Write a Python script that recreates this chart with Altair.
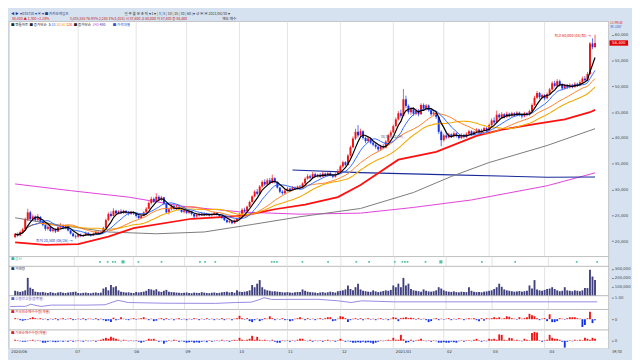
import altair as alt
import pandas as pd

# ---------------- data ----------------
month_labels = ["2020/06", "07", "08", "09", "10", "11", "12", "2021/01", "02", "03", "04"]
month_start = [0, 25, 48, 68, 89, 108, 129, 150, 170, 188, 210]

opens = [
    20800, 21400, 21100, 21800, 22300, 24200, 25600, 24300, 24800, 24100, 24700, 23900, 23200, 22400, 22800, 22000, 22300, 21900, 22700, 23100, 22600, 22900, 22100, 21500, 21000,
    20900, 21300, 21000, 21200, 21600, 21300, 21100, 21500, 21800, 21500, 21700, 22600, 24100, 25300, 24900, 25900, 25400, 25800, 25500, 25900, 25600, 25300, 25700,
    25400, 24900, 24500, 24900, 25600, 26300, 27400, 28200, 27700, 28600, 28100, 28500, 27300, 25600, 26200, 26800, 26300, 26700, 26200, 25700,
    26000, 25500, 25800, 25300, 24800, 25200, 25000, 25400, 25100, 25300, 25000, 25200, 25500, 25200, 24900, 24600, 24100, 23700, 23900, 23500, 24000,
    24400, 25300, 26100, 25800, 26700, 27600, 28700, 29600, 29200, 30600, 31500, 31000, 31800, 31300, 32200, 31500, 30400, 29600, 29300,
    29800, 30200, 29900, 30400, 30100, 30600, 30300, 31200, 32100, 32600, 32300, 33000, 32600, 32900, 32500, 33100, 32700, 33200, 32800, 32500, 33000,
    33600, 34500, 35300, 34800, 36600, 38200, 39900, 41200, 40500, 41300, 40000, 39400, 39900, 39100, 38700, 38300, 37800, 38400, 38100, 39300, 40500,
    41100, 42300, 43600, 44800, 44300, 47500, 46200, 45000, 45600, 44700, 45300, 44600, 46400, 45700, 46300, 45400, 44600, 44900, 44100, 41200,
    39600, 40500, 40100, 40700, 40300, 40900, 40400, 40000, 40600, 40200, 40800, 41300, 40700, 41200, 41600, 41100, 41500, 41900,
    41400, 42500, 43400, 43000, 44500, 44000, 44600, 44100, 44700, 44300, 44800, 44400, 44900, 44500, 44200, 44800, 44500, 45200, 46400, 47800, 48700, 47900,
    48300, 47700, 48500, 49400, 50600, 50100, 51000, 50300, 49600, 50200, 49800, 50300, 49900, 50500, 50200, 50800, 51500, 51200, 52400, 58300, 57600,
]
closes = [
    21400, 21100, 21800, 22300, 24200, 25600, 24300, 24800, 24100, 24700, 23900, 23200, 22400, 22800, 22000, 22300, 21900, 22700, 23100, 22600, 22900, 22100, 21500, 21000, 20900,
    21300, 21000, 21200, 21600, 21300, 21100, 21500, 21800, 21500, 21700, 22600, 24100, 25300, 24900, 25900, 25400, 25800, 25500, 25900, 25600, 25300, 25700, 25400,
    24900, 24500, 24900, 25600, 26300, 27400, 28200, 27700, 28600, 28100, 28500, 27300, 25600, 26200, 26800, 26300, 26700, 26200, 25700, 26000,
    25500, 25800, 25300, 24800, 25200, 25000, 25400, 25100, 25300, 25000, 25200, 25500, 25200, 24900, 24600, 24100, 23700, 23900, 23500, 24000, 24400,
    25300, 26100, 25800, 26700, 27600, 28700, 29600, 29200, 30600, 31500, 31000, 31800, 31300, 32200, 31500, 30400, 29600, 29300, 29800,
    30200, 29900, 30400, 30100, 30600, 30300, 31200, 32100, 32600, 32300, 33000, 32600, 32900, 32500, 33100, 32700, 33200, 32800, 32500, 33000, 33600,
    34500, 35300, 34800, 36600, 38200, 39900, 41200, 40500, 41300, 40000, 39400, 39900, 39100, 38700, 38300, 37800, 38400, 38100, 39300, 40500, 41100,
    42300, 43600, 44800, 44300, 47500, 46200, 45000, 45600, 44700, 45300, 44600, 46400, 45700, 46300, 45400, 44600, 44900, 44100, 41200, 39600,
    40500, 40100, 40700, 40300, 40900, 40400, 40000, 40600, 40200, 40800, 41300, 40700, 41200, 41600, 41100, 41500, 41900, 41400,
    42500, 43400, 43000, 44500, 44000, 44600, 44100, 44700, 44300, 44800, 44400, 44900, 44500, 44200, 44800, 44500, 45200, 46400, 47800, 48700, 47900, 48300,
    47700, 48500, 49400, 50600, 50100, 51000, 50300, 49600, 50200, 49800, 50300, 49900, 50500, 50200, 50800, 51500, 51200, 52400, 58300, 57600, 58400,
]
highs = [
    21600, 21700, 22100, 22600, 24600, 26300, 25900, 25200, 25000, 25300, 24900, 24000, 23300, 23300, 23000, 22700, 22500, 23100, 23500, 23300, 23200, 23000, 22200, 21700, 21300,
    21500, 21500, 21400, 21900, 21800, 21500, 21700, 22100, 21900, 22000, 22800, 24400, 25600, 25800, 26400, 26100, 26000, 26200, 26100, 26000, 25800, 25900, 25800,
    25500, 25100, 25200, 25800, 26600, 27700, 28600, 28500, 29300, 28900, 28800, 28600, 27400, 26500, 27100, 27000, 27100, 26800, 26400, 26300,
    26200, 26000, 25900, 25400, 25400, 25500, 25700, 25600, 25500, 25400, 25400, 25700, 25600, 25300, 25000, 24700, 24300, 24200, 24000, 24200, 24600,
    25500, 26400, 26500, 26900, 27900, 28900, 29900, 30100, 30900, 31800, 32000, 32200, 32300, 32900, 32400, 31600, 30500, 29900, 30100,
    30500, 30400, 30700, 30600, 30800, 30900, 31400, 32400, 33000, 32900, 33400, 33300, 33100, 33200, 33500, 33300, 33600, 33400, 33000, 33300, 34000,
    34800, 35600, 35500, 36900, 38500, 40300, 41800, 42500, 41800, 41500, 40300, 40200, 40100, 39400, 39000, 38600, 38700, 38800, 39600, 40800, 41500,
    42600, 44000, 45200, 45500, 49500, 48200, 46500, 46000, 45900, 45700, 45600, 46700, 46700, 46600, 46500, 45700, 45300, 45100, 44200, 41500,
    40800, 41200, 41000, 40900, 41300, 41100, 40600, 40900, 40800, 41100, 41600, 41500, 41400, 41900, 41800, 41800, 42200, 42100,
    42800, 43800, 44000, 45300, 44800, 45000, 44800, 45100, 44900, 45100, 45000, 45200, 45100, 44800, 45100, 45000, 45500, 46700, 48200, 49100, 48900, 48600,
    48500, 48800, 49700, 51000, 51100, 51400, 51300, 50600, 50500, 50400, 50600, 50500, 50800, 50700, 51200, 51900, 52000, 52800, 58600, 59300, 60000,
]
lows = [
    20600, 20900, 21000, 21500, 22200, 23900, 24000, 23900, 23800, 23900, 23600, 22900, 22000, 22100, 21800, 21700, 21600, 21800, 22400, 22300, 22300, 21900, 21300, 20800, 20500,
    20700, 20800, 20800, 21100, 21100, 20900, 21000, 21300, 21300, 21400, 21600, 22500, 23900, 24600, 24800, 25100, 25200, 25300, 25300, 25300, 25000, 25100, 25100,
    24600, 24300, 24300, 24800, 25500, 26200, 27100, 27400, 27600, 27700, 27800, 27000, 25300, 25200, 26000, 26100, 26100, 25900, 25500, 25400,
    25300, 25300, 25000, 24500, 24600, 24800, 24900, 24900, 24900, 24800, 24800, 25000, 25000, 24700, 24300, 23900, 23500, 23500, 23300, 23400, 23800,
    24300, 25100, 25600, 25700, 26600, 27500, 28500, 28900, 29100, 30400, 30700, 30800, 31000, 31200, 31200, 30200, 29300, 29000, 29100,
    29600, 29700, 29800, 29900, 30000, 30100, 30200, 31000, 31900, 32000, 32100, 32400, 32300, 32300, 32400, 32500, 32500, 32600, 32200, 32300, 32900,
    33400, 34200, 34500, 34700, 36400, 38000, 39600, 40100, 40200, 39700, 39000, 39100, 38800, 38400, 37900, 37400, 37500, 37800, 38000, 39100, 40200,
    40900, 42100, 43400, 43900, 44200, 45800, 44600, 44500, 44300, 44400, 44200, 44500, 45300, 45300, 45100, 44300, 44200, 43700, 40800, 38400,
    39300, 39800, 39900, 40000, 40100, 40100, 39700, 39800, 39900, 40000, 40600, 40400, 40500, 41000, 40800, 40900, 41300, 41100,
    41300, 42300, 42700, 42900, 43700, 43800, 43800, 43900, 44000, 44100, 44100, 44200, 44200, 43800, 44000, 44200, 44300, 45100, 46200, 47500, 47500, 47600,
    47300, 47500, 48300, 49200, 49800, 49900, 50000, 49300, 49400, 49500, 49600, 49600, 49700, 49900, 50000, 50600, 50900, 51000, 52200, 57200, 57400,
]
volume_k = [
    55, 48, 42, 50, 60, 200, 90, 75, 45, 40,
    38, 42, 35, 30, 40, 33, 28, 36, 40, 32,
    30, 35, 38, 42, 45, 30, 28, 32, 35, 30,
    27, 33, 36, 30, 34, 80, 95, 60, 120, 95,
    105, 60, 45, 40, 35, 38, 32, 30, 42, 36,
    40, 45, 55, 75, 70, 60, 72, 48, 42, 55,
    65, 45, 40, 38, 35, 33, 30, 34, 36, 30,
    28, 35, 32, 30, 40, 34, 30, 28, 33, 36,
    30, 32, 38, 42, 45, 36, 40, 33, 60, 45,
    40, 45, 50, 60, 120, 95, 135, 175, 95, 70,
    60, 55, 48, 50, 45, 42, 38, 36, 40, 35,
    33, 38, 42, 40, 70, 55, 45, 40, 38, 35,
    30, 36, 40, 33, 38, 45, 40, 35, 50, 55,
    60, 70, 115, 75, 60, 95, 135, 70, 55, 50,
    45, 42, 60, 48, 40, 45, 52, 60, 55, 65,
    115, 95, 135, 95, 200, 115, 135, 75, 60, 55,
    50, 45, 70, 55, 48, 45, 50, 60, 95, 80,
    60, 50, 45, 42, 48, 40, 38, 45, 42, 40,
    95, 55, 45, 40, 42, 38, 45, 48, 55, 60,
    75, 95, 135, 100, 70, 60, 55, 50, 45, 48,
    52, 45, 50, 55, 115, 80, 175, 70, 60, 55,
    65, 75, 80, 95, 75, 60, 50, 55, 95, 60,
    55, 50, 60, 55, 50, 60, 85, 85, 290, 215,
    175,
]
foreign_net = [
    1, 0.5, -1, -1.5, -1, -0.5, 1, 2, 1, 0.5,
    1, -0.5, 0.5, -1, 0.5, -0.5, 1, -1, 0.5, 1,
    -0.5, 0.5, 1, -1, -0.5, 0.5, -0.5, 1, -1, 0.5,
    0.5, -0.5, 1, -1, 0.5, -1, -2, -1.5, -3, 1.5,
    -1, -0.5, 2, 0.5, -0.5, -1, 0.5, 1, -0.5, 0.5,
    1, 2, 0.5, -1, 0.5, -2, -1.5, 0.5, 1, -1,
    1, -0.5, 0.5, -1, 0.5, 1, -0.5, 0.5, -1, 0.5,
    -0.5, 1, 0.5, -1, 0.5, -0.5, 1, -0.5, 0.5, -1,
    0.5, -0.5, 1, -1, 0.5, 0.5, -1, 0.5, 1, 3.5,
    1, -0.5, 1, -2, -3, -1, 0.5, -2, -1, 1,
    0.5, 3, 1, -1, 0.5, -0.5, 1, -1, -0.5, -2,
    -1.5, 0.5, 1, 2, 0.5, -1, 1, -0.5, 0.5, -1,
    0.5, 1, -0.5, 1, 2, 2, -2, -1.5, 0.5, 3,
    2.5, 1, -3, -1, 0.5, 1, -0.5, 1, -1, 0.5,
    1, -0.5, 0.5, -1, 0.5, 1, -0.5, 0.5, -1, 0.5,
    2, 1.5, -2, 1, 1.5, 2, 1, 1.5, 1, -0.5,
    1, -0.5, 0.5, -1, -3, -2, 0.5, 1, -1, 0.5,
    -0.5, 0.5, 1, -1, 0.5, -0.5, 1, 0.5, -1, 0.5,
    1, 0.5, 1, -1, -2, 1, -1.5, 1, 0.5, 1,
    2, 1, 2, 0.5, 1, 3, 2.5, 1, 0.5, -0.5,
    2, 0.5, 1, 2, 5.5, 4, 3, 1, -1, 0.5,
    1, -2, 5, -3, -3, -2, 1, 0.5, -0.5, 1,
    2, 2, 2, 1, 0.5, -8, -6, 1, 7.5, -4,
    -1,
]
inst_net = [
    1, 0.5, -0.5, -1, -1, -0.5, 0.5, 1, -0.5, 0.5,
    -0.5, -2, -2, -1, -0.5, -1, -1.5, -1, -0.5, -1,
    -0.5, -1, 0.5, -1, -0.5, 0.5, -0.5, -1, 0.5, -0.5,
    -0.5, 0.5, -1, 0.5, 1, 2, 3, 2, 4, 3,
    2, 1, -0.5, 1, 0.5, -0.5, 0.5, -0.5, 0.5, -1,
    -2, -1, 0.5, 2, 1.5, 2, 0.5, -1, -0.5, -3,
    -1, 0.5, -0.5, 1, 0.5, -1, -0.5, -1, -2, -1.5,
    -1, -2, -1.5, -2, -1, -0.5, -1.5, 0.5, -1, -0.5,
    0.5, -0.5, 1, -0.5, 0.5, -1, 0.5, 1, 0.5, 3,
    1, 0.5, 1, 2, 5, 1, 4, 1, 0.5, 1,
    0.5, -0.5, 1, -1, -2, -2, 0.5, -0.5, 0.5, -1,
    0.5, -0.5, 1, 2, 2, 0.5, -0.5, 1, -1, 0.5,
    -0.5, 0.5, -1, 0.5, 1, -0.5, 0.5, -1, 0.5, 2,
    0.5, -1, -0.5, -1, -2, -2, -1.5, -2, -1, -2,
    -1.5, -2, -3, -2, -1, 0.5, -0.5, 0.5, 1, 0.5,
    3, 1, 1, 6, 1.5, -2, -1.5, 1, -1, 0.5,
    1, 2, 0.5, -0.5, 0.5, -1, 0.5, -0.5, -2, -2,
    -1.5, -2, -2, -1, -1.5, -2, -0.5, 0.5, -1, 0.5,
    0.5, -0.5, 1, 2, 0.5, -1, 0.5, -0.5, 2, 1.5,
    2, 1, 6.5, 6, 1, 0.5, 3, 2.5, 0.5, 1,
    0.5, -0.5, 2, 1, 0.5, 8, 9, 8.5, 0.5, -1,
    0.5, 1, 6, 3, 2, 2, 1, -1, -7, -1,
    0.5, -0.5, 1, 0.5, 1, 0.5, 3, 2, 1, 3,
    2,
]
credit_idx = [0, 6, 8, 12, 16, 30, 37, 42, 46, 60, 80, 88, 94, 97, 99, 102, 120, 128, 133, 137, 150, 170, 200, 229]
credit_val = [0.47, 0.48, 0.60, 0.47, 0.55, 0.55, 0.57, 0.83, 0.70, 0.66, 0.65, 0.70, 0.72, 0.86, 0.98, 0.88, 0.89, 0.80, 0.70, 0.80, 0.74, 0.74, 0.74, 0.74]

ma60_idx = [0, 12, 25, 37, 47, 70, 90, 103, 115, 128, 137, 152, 167, 183, 193, 206, 218, 228, 230]
ma60_val = [19800, 19300, 19450, 20900, 22550, 24360, 24900, 26200, 27100, 28550, 30900, 35800, 37300, 40400, 41600, 42700, 43600, 45000, 45450]
ma120_idx = [0, 18, 37, 56, 75, 94, 113, 137, 158, 173, 188, 211, 230]
ma120_val = [24550, 23100, 21800, 21450, 21800, 23250, 24750, 26350, 29450, 32550, 35250, 38550, 41800]
ma240_idx = [0, 22, 45, 67, 90, 113, 137, 158, 181, 211, 230]
ma240_val = [31100, 29800, 28550, 26750, 25650, 25250, 25450, 26550, 28000, 30750, 33250]
ma480_idx = [110, 137, 169, 211, 230]
ma480_val = [33800, 33300, 32900, 32400, 32450]

disclosure_idx = [35, 38, 40, 41, 44, 50, 59, 74, 76, 80, 102, 103, 104, 114, 124, 135, 140, 150, 153, 154, 155, 162, 168, 184, 197, 221, 229]
disclosure_big = [44, 168]

# ---------------- chart ----------------
N = len(closes)
df = pd.DataFrame({"i": list(range(N)), "o": opens, "h": highs, "l": lows, "c": closes,
                   "vol": volume_k, "fn": foreign_net, "inn": inst_net})
df["dir"] = ["up" if c >= o else "down" for o, c in zip(opens, closes)]

FONT = "Noto Sans CJK KR"
RED, BLUE = "#f01414", "#1432e6"
BG = "#d6e2f0"
W = 612
XS = alt.Scale(domain=[-0.5, 233.4], nice=False, zero=False)
X = alt.X("i:Q", scale=XS, axis=None)
dirc = alt.Color("dir:N", scale=alt.Scale(domain=["up", "down"], range=[RED, BLUE]), legend=None)
dummy = pd.DataFrame({"k": [0]})


def raxis(values, fmt=None, expr=None):
    kw = dict(orient="right", values=values, labelFontSize=3.9, labelColor="#404040", tickSize=2,
              tickColor="#808080", domain=False, grid=False, title=None, minExtent=20, maxExtent=20,
              labelPadding=1, offset=3, labelFont="DejaVu Sans")
    if fmt:
        kw["format"] = fmt
    if expr:
        kw["labelExpr"] = expr
    return alt.Axis(**kw)


def label(s, x, y, color="#222222", size=3.6, align="left"):
    return alt.Chart(dummy).mark_text(text=s, align=align, baseline="middle", fontSize=size,
                                      color=color, font=FONT).encode(x=alt.value(x), y=alt.value(y))


grid = alt.Chart(pd.DataFrame({"i": month_start[1:]})).mark_rule(color="#dcdcdc", strokeWidth=0.8).encode(x=X)

# ---- header toolbar ----
header = alt.layer(
    label("◀ ▶ ▾  035720 ▾ ▣ ▾  ■ 카카오게임즈", 2, 2.6, "#1b3a8a"),
    label("일  주  월  분  초  틱  ▾ 1 ▾   | 3 | 5 | 10 | 15 | 30 | 60 |  ▾  ↺ ▣ ▣  2021/04/30 ▾", 118, 2.6, "#333333"),
    label("58,400 ▲  1,300  +2.28%", 3, 7.6, "#e01010"),
    label("3,435,555  76.93%  2,284  1%(1,024)  시 57,600  고 60,000  저 57,400  종 58,400", 62, 7.6, "#c01818"),
    label("매도  매수", 218, 7.6, "#333333"),
).properties(width=W, height=10, view=alt.ViewBackground(fill=BG, stroke=None))

# ---- main price panel ----
PS = alt.Scale(domain=[18000, 61636], nice=False, zero=False)
paxis = raxis(list(range(20000, 60001, 5000)), fmt=",.0f")
base = alt.Chart(df)


def YP(f):
    return alt.Y(f + ":Q", scale=PS, axis=paxis)


def ma_line(n, color, w):
    return base.transform_window(ma="mean(c)", frame=[-(n - 1), 0], sort=[alt.SortField("i")]).mark_line(
        color=color, strokeWidth=w).encode(x=X, y=YP("ma"))


def sparse(idx, vals, color, w):
    d = pd.DataFrame({"i": idx, "v": vals})
    return alt.Chart(d).mark_line(color=color, strokeWidth=w).encode(x=X, y=YP("v"))


wick = base.mark_rule(strokeWidth=0.7).encode(x=X, y=YP("l"), y2="h:Q", color=dirc)
body = base.mark_bar(size=2).encode(x=X, y=YP("o"), y2="c:Q", color=dirc)

low_lbl = base.transform_filter("datum.i == 24").transform_calculate(
    t="'최저 ' + format(datum.l, ',') + ' (06/26) →'").mark_text(
    align="right", dx=-3, dy=2, fontSize=3.8, color="#2040c0", font=FONT).encode(x=X, y=YP("l"), text="t:N")
high_lbl = base.transform_filter("datum.i == 230").transform_calculate(
    t="'최고 ' + format(datum.h, ',') + ' (04/30) →'").mark_text(
    align="right", dx=-4, dy=1, fontSize=3.8, color="#e01010", font=FONT).encode(x=X, y=YP("h"), text="t:N")
mid_lbl = base.transform_filter("datum.i == 145").transform_calculate(
    t="format(datum.h, ',') + '(12/24) -'").mark_text(
    align="left", dx=0, dy=-8, fontSize=3.6, color="#505070", font=FONT).encode(x=X, y=YP("h"), text="t:N")

last = base.transform_filter("datum.i == 230")
tag = last.mark_bar(orient="horizontal", size=5.5, color="#e00000").encode(
    y=YP("c"), x=alt.value(W + 1), x2=alt.value(W + 20))
tag_t = last.mark_text(fontSize=3.9, color="white", align="center", baseline="middle", font="DejaVu Sans").encode(
    y=YP("c"), x=alt.value(W + 10.5), text=alt.Text("c:Q", format=",.0f"))

legend_row = alt.layer(
    label("■ 캔들차트", 2, 3.5, "#222222"),
    label("■ 종가단순", 21, 3.5, "#222222"),
    label("5", 40.5, 3.5, "#000000"),
    label("10", 43.5, 3.5, "#2f6bff"),
    label("20", 48.5, 3.5, "#ff7f27"),
    label("60", 53.5, 3.5, "#f2a900"),
    label("120", 58.5, 3.5, "#ff1010"),
    label("■ 종가단순", 66, 3.5, "#222222"),
    label("240", 85.5, 3.5, "#e040d8"),
    label("480", 92.5, 3.5, "#1a2a9a"),
    label("■ 가격대별", 106, 3.5, "#3050d0"),
    label("LC:PR:30", W + 2, 1.6, "#e01010", 3.0),
    label("RC:1267", W + 2, 5.4, "#2050d0", 3.0),
)

main = alt.layer(
    grid,
    sparse(ma240_idx, ma240_val, "#e040d8", 1.0),
    sparse(ma480_idx, ma480_val, "#1a2a9a", 1.1),
    sparse(ma120_idx, ma120_val, "#7a7a7a", 1.0),
    sparse(ma60_idx, ma60_val, "#ff1010", 1.8),
    wick, body,
    ma_line(30, "#f2a900", 1.1),
    ma_line(20, "#ff7f27", 1.0),
    ma_line(10, "#2f6bff", 1.0),
    ma_line(5, "#000000", 1.2),
    low_lbl, high_lbl, mid_lbl, tag, tag_t, legend_row,
).properties(width=W, height=240)

# ---- disclosure panel ----
disc_df = pd.DataFrame({"i": disclosure_idx, "big": [1 if d in disclosure_big else 0 for d in disclosure_idx]})
disc = alt.layer(
    grid,
    alt.Chart(disc_df).mark_square(color="#4fc3a0", opacity=1).encode(
        x=X, y=alt.value(5.5), size=alt.Size("big:Q", scale=alt.Scale(domain=[0, 1], range=[3, 10]), legend=None)),
    label("■ 공시", 2, 2.5, "#3fae8c"),
).properties(width=W, height=10)

# ---- volume panel ----
vol = alt.layer(
    grid,
    base.mark_bar(size=1.9, color="#40407e").encode(
        x=X, y=alt.Y("vol:Q", scale=alt.Scale(domain=[0, 330], nice=False),
                     axis=raxis([100, 200, 300], expr="format(datum.value * 1000, ',')"))),
    label("■ 거래량", 2, 3, "#33335a"),
).properties(width=W, height=30)

# ---- credit ratio panel ----
credit_df = pd.DataFrame({"i": credit_idx, "v": credit_val})
credit = alt.layer(
    grid,
    alt.Chart(credit_df).mark_line(color="#9488e0", strokeWidth=1).encode(
        x=X, y=alt.Y("v:Q", scale=alt.Scale(domain=[0.3, 1.1], nice=False, zero=False),
                     axis=raxis([1.0], fmt=".2f"))),
    label("■ 신용잔고율(종목별)", 2, 3, "#6a5ac8"),
).properties(width=W, height=14)

# ---- net buying panels ----
sign_color = alt.Color("s:N", scale=alt.Scale(domain=["p", "n"], range=["#f01414", "#1a4ae8"]), legend=None)
foreign = alt.layer(
    grid,
    base.transform_calculate(s="datum.fn >= 0 ? 'p' : 'n'").mark_bar(size=1.9).encode(
        x=X, y=alt.Y("fn:Q", scale=alt.Scale(domain=[-11, 10], nice=False, zero=False), axis=raxis([0], fmt="d")),
        color=sign_color),
    label("■ 외국인순매수수량(개별)", 2, 3, "#d02020"),
).properties(width=W, height=21)

inst = alt.layer(
    grid,
    base.transform_calculate(s="datum.inn >= 0 ? 'p' : 'n'").mark_bar(size=1.9).encode(
        x=X, y=alt.Y("inn:Q", scale=alt.Scale(domain=[-8, 11], nice=False, zero=False), axis=raxis([0], fmt="d")),
        color=sign_color),
    label("■ 기관순매수수량(개별)", 2, 3, "#d02020"),
).properties(width=W, height=19)

# ---- date band ----
mdf = pd.DataFrame({"i": month_start, "t": month_labels})
band = alt.layer(
    alt.Chart(mdf).mark_text(align="left", dx=1, baseline="middle", fontSize=3.9, color="#333333",
                             font="DejaVu Sans").encode(x=X, y=alt.value(4), text="t:N"),
    label("04/30", W + 4, 4, "#333333"),
).properties(width=W, height=8, view=alt.ViewBackground(fill=BG, stroke=None))

chart = alt.vconcat(header, main, disc, vol, credit, foreign, inst, band, spacing=0, bounds="flush").properties(
    background=BG, padding=0
).configure(font=FONT).configure_view(stroke="#a8a8a8", strokeWidth=0.6, fill="white")

chart.save("out.html", embed_options={"renderer": "svg", "actions": False})
